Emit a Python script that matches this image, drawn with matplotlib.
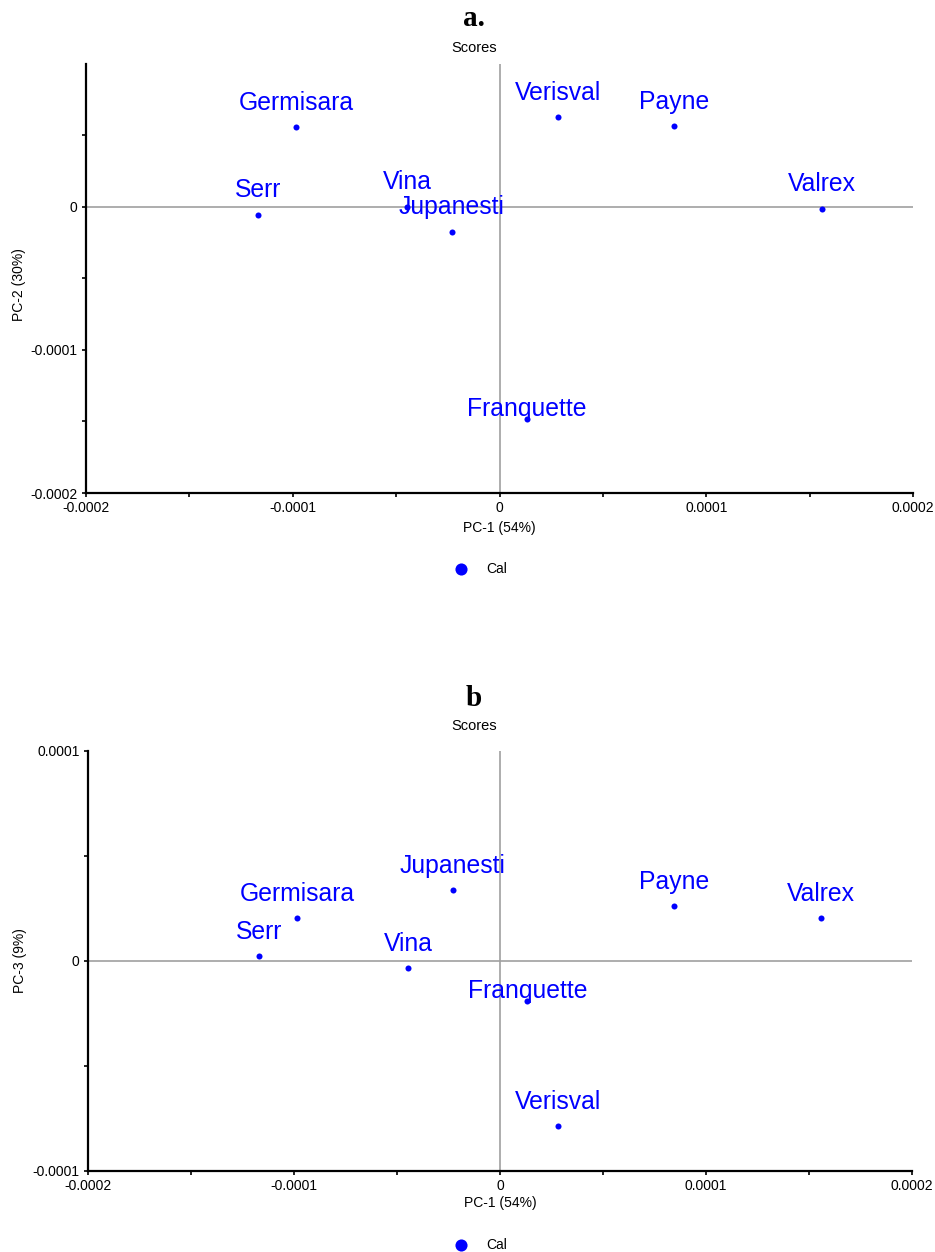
import matplotlib
matplotlib.use("Agg")
import matplotlib.pyplot as plt
from matplotlib.ticker import MultipleLocator, FuncFormatter

plt.rcParams['font.family'] = ['Liberation Sans', 'DejaVu Sans']

# PCA scores
cultivars = ['Germisara', 'Verisval', 'Payne', 'Valrex', 'Serr', 'Vina', 'Jupanesti', 'Franquette']
pc1 = [-0.0000984, 0.0000283, 0.0000844, 0.000156, -0.0001168, -0.0000447, -0.000023, 0.0000133]
pc2 = [0.0000552, 0.0000622, 0.0000559, -0.0000014, -0.0000056, 0.0, -0.0000175, -0.000148]
pc3 = [0.0000205, -0.0000786, 0.0000262, 0.0000205, 0.0000024, -0.0000033, 0.0000338, -0.000019]

blue = '#0000ff'
W, H = 935, 1252

fig = plt.figure(figsize=(W / 100, H / 100), dpi=100)


def fmt(v, pos):
    v = round(v, 7)
    if v == 0:
        return '0'
    return '%g' % v


# label offset above each point (points); Franquette sits lower in the original
lift = {'Franquette': 2}


def panel(rect, yvals, ylim, ylab, ylab_xy, xlab_y, title, title_y, scores_y, leg_y):
    ax = fig.add_axes(rect)
    ax.set_xlim(-0.0002, 0.0002)
    ax.set_ylim(*ylim)
    ax.axhline(0, color='#a0a0a0', lw=1.2, zorder=1)
    ax.axvline(0, color='#a0a0a0', lw=1.2, zorder=1)
    ax.scatter(pc1, yvals, s=19, color=blue, zorder=3, label='Cal', linewidths=0)
    for name, x, y in zip(cultivars, pc1, yvals):
        ax.annotate(name, (x, y), xytext=(0, lift.get(name, 12.5)), textcoords='offset points',
                    ha='center', va='baseline', color=blue, fontsize=17.8, zorder=4)

    for s in ['top', 'right']:
        ax.spines[s].set_visible(False)
    for s in ['left', 'bottom']:
        ax.spines[s].set_linewidth(1.6)
    ax.xaxis.set_major_locator(MultipleLocator(0.0001))
    ax.xaxis.set_minor_locator(MultipleLocator(0.00005))
    ax.yaxis.set_major_locator(MultipleLocator(0.0001))
    ax.yaxis.set_minor_locator(MultipleLocator(0.00005))
    ax.xaxis.set_major_formatter(FuncFormatter(fmt))
    ax.yaxis.set_major_formatter(FuncFormatter(fmt))
    ax.tick_params(which='both', direction='out', length=3, width=1.2, labelsize=10, pad=3)

    ax.set_xlabel('PC-1 (54%)', fontsize=10, va='center')
    ax.xaxis.set_label_coords(0.5, xlab_y)
    ax.set_ylabel(ylab, fontsize=10, va='center')
    ax.yaxis.set_label_coords(*ylab_xy)

    fig.text(474 / W, 1 - title_y / H, title, ha='center', va='center',
             fontsize=21, fontweight='bold', family='Liberation Serif')
    fig.text(474 / W, 1 - scores_y / H, 'Scores', ha='center', va='center', fontsize=10.5)

    ax.legend(loc='center', bbox_to_anchor=(477 / W, 1 - leg_y / H), bbox_transform=fig.transFigure,
              frameon=False, markerscale=2, fontsize=10, handletextpad=0.8)
    return ax


# panel a: PC-1 vs PC-2
panel([86 / W, 1 - 493 / H, 827 / W, 429 / H], pc2, (-0.0002, 0.0000995), 'PC-2 (30%)',
      (-0.081, 0.485), -0.081, 'a.', 18, 48, 569)

# panel b: PC-1 vs PC-3
panel([88 / W, 1 - 1171 / H, 824 / W, 420 / H], pc3, (-0.0001, 0.0001), 'PC-3 (9%)',
      (-0.0825, 0.5), -0.077, 'b', 698, 726, 1245)

fig.savefig('out.png', dpi=100)
